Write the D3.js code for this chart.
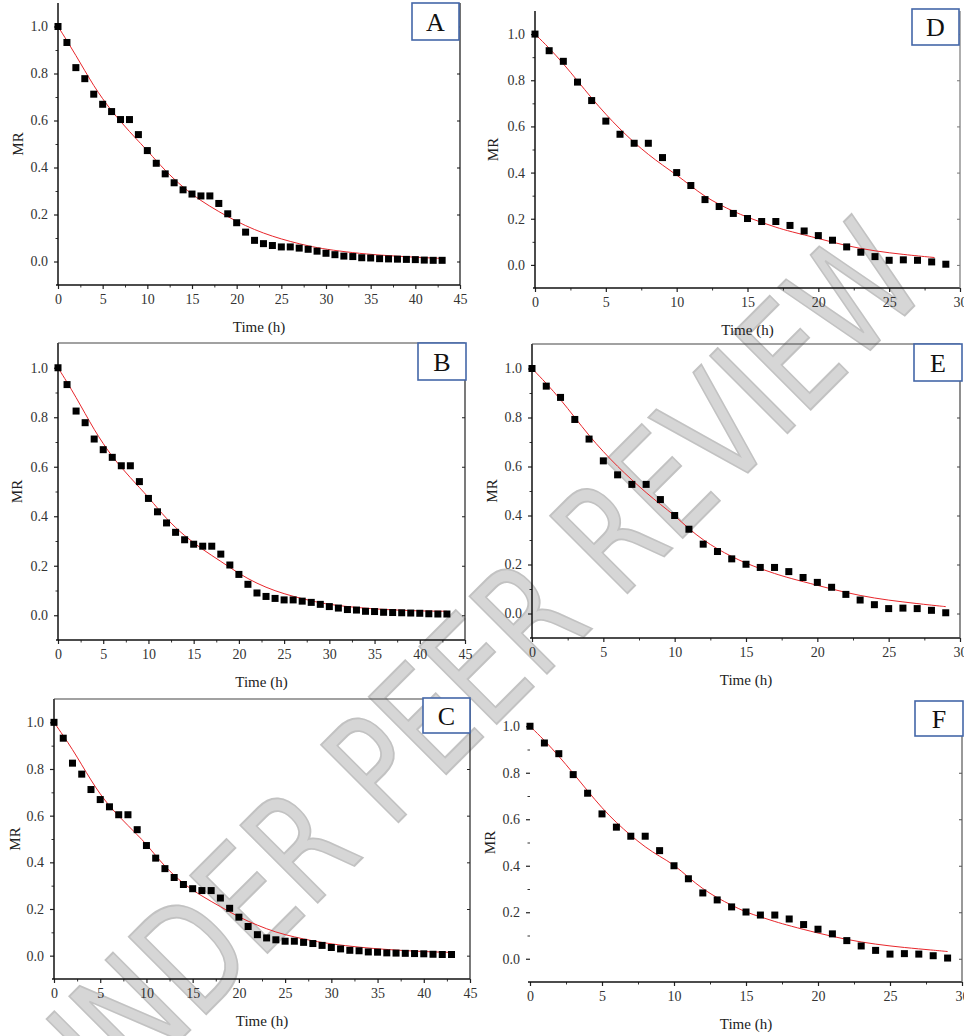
<!DOCTYPE html>
<html>
<head>
<meta charset="utf-8">
<script src="https://cdn.jsdelivr.net/npm/d3@7"></script>
<style>
  html, body { margin: 0; padding: 0; background: #fff; }
  svg { display: block; }
  .serif, .serif text { font-family: "Liberation Serif", "DejaVu Serif", serif !important; }
</style>
</head>
<body>
<svg id="chart" width="964" height="1036"></svg>
<script>
// ---------------- DATA ----------------
const timesABC = [0,1,2,3,4,5,6,7,8,9,10,11,12,13,14,15,16,17,18,19,20,21,22,23,24,25,26,27,28,29,30,31,32,33,34,35,36,37,38,39,40,41,42,43];
const mrABC = [1.000,0.932,0.825,0.778,0.712,0.669,0.638,0.604,0.604,0.540,0.472,0.418,0.373,0.335,0.305,0.287,0.279,0.279,0.247,0.203,0.165,0.125,0.090,0.076,0.068,0.062,0.062,0.057,0.052,0.044,0.035,0.029,0.023,0.021,0.016,0.015,0.012,0.011,0.010,0.009,0.008,0.006,0.005,0.005];

const timesDEF = [0,1,2,3,4,5,6,7,8,9,10,11,12,13,14,15,16,17,18,19,20,21,22,23,24,25,26,27,28,29];
const mrDEF = [1.000,0.928,0.882,0.792,0.712,0.623,0.566,0.527,0.527,0.465,0.400,0.344,0.283,0.253,0.223,0.201,0.188,0.188,0.171,0.147,0.127,0.107,0.078,0.055,0.036,0.020,0.022,0.020,0.013,0.003];

// fitted model curves
const fitTimeABC = [0,1,2,3,4,5,6,7,8,9,10,12,14,16,18,20,22,24,26,28,30,33,36,40,43];
const fitA = [1.0,0.940,0.877,0.812,0.748,0.692,0.641,0.596,0.553,0.512,0.472,0.386,0.315,0.258,0.212,0.170,0.135,0.107,0.085,0.066,0.052,0.037,0.027,0.018,0.013];
const fitB = [1.0,0.942,0.880,0.815,0.750,0.693,0.641,0.597,0.556,0.516,0.477,0.388,0.320,0.265,0.218,0.168,0.128,0.098,0.076,0.058,0.043,0.031,0.023,0.017,0.016];
const fitC = [1.0,0.943,0.884,0.818,0.752,0.692,0.641,0.598,0.558,0.518,0.478,0.380,0.307,0.255,0.210,0.165,0.130,0.100,0.080,0.063,0.050,0.036,0.026,0.017,0.014];

const fitTimeD = [0,1,2,3,4,5,6,7,8,9,10,11,12,13,14,15,16,17,18,20,22,24,26,28.2];
const fitD = [1.0,0.940,0.872,0.798,0.722,0.652,0.588,0.530,0.478,0.432,0.390,0.342,0.296,0.262,0.232,0.206,0.184,0.163,0.145,0.115,0.082,0.060,0.045,0.032];
const fitTimeEF = [0,1,2,3,4,5,6,7,8,9,10,11,12,13,14,15,16,17,18,20,22,24,26,28,29];
const fitE = [1.0,0.940,0.874,0.800,0.726,0.660,0.600,0.545,0.493,0.445,0.400,0.345,0.300,0.263,0.232,0.205,0.183,0.163,0.145,0.115,0.085,0.062,0.047,0.034,0.028];
const fitF = [1.0,0.940,0.872,0.798,0.722,0.648,0.585,0.530,0.480,0.440,0.405,0.350,0.300,0.262,0.230,0.200,0.180,0.160,0.142,0.110,0.082,0.062,0.048,0.037,0.031];

const xTicks45 = [0,5,10,15,20,25,30,35,40,45];
const xTicks30 = [0,5,10,15,20,25,30];
const yTicks = [0.0,0.2,0.4,0.6,0.8,1.0];
const yMinorTicks = [0.1,0.3,0.5,0.7,0.9];
const panelLabels = ["A","B","C","D","E","F"];
const xTitle = "Time (h)";
const yTitle = "MR";
const watermark = "UNDER PEER REVIEW";

// ---------------- LAYOUT ----------------
const layouts = [
  {label:panelLabels[0], t:timesABC, v:mrABC, ft:fitTimeABC, fv:fitA, xmax:45, xt:xTicks45,
   L:58, R:460, T:3, B:285, box:[412,3,47,37], top:false, yline:true, rightCol:"#111", mrX:18},
  {label:panelLabels[1], t:timesABC, v:mrABC, ft:fitTimeABC, fv:fitB, xmax:45, xt:xTicks45,
   L:58, R:465, T:343, B:640, box:[418,343,48,37], top:true, yline:true, rightCol:"#222", mrX:17},
  {label:panelLabels[2], t:timesABC, v:mrABC, ft:fitTimeABC, fv:fitC, xmax:45, xt:xTicks45,
   L:54, R:470, T:699, B:979, box:[423,698,47,35], top:true, yline:true, rightCol:"#222", mrX:15},
  {label:panelLabels[3], t:timesDEF, v:mrDEF, ft:fitTimeD, fv:fitD, xmax:30, xt:xTicks30,
   L:535, R:960, T:11, B:288, box:[912,9,47,36], top:false, yline:true, rightCol:"#777", mrX:493},
  {label:panelLabels[4], t:timesDEF, v:mrDEF, ft:fitTimeEF, fv:fitE, xmax:30, xt:xTicks30,
   L:532, R:960, T:344, B:638, box:[914,344,48,37], top:true, yline:true, rightCol:"#444", mrX:492},
  {label:panelLabels[5], t:timesDEF, v:mrDEF, ft:fitTimeEF, fv:fitF, xmax:30, xt:xTicks30,
   L:530, R:962, T:703, B:982, box:[915,701,48,35], top:false, yline:false, rightCol:"#555", mrX:490}
];

const svg = d3.select("#chart");
svg.append("rect").attr("width",964).attr("height",1036).attr("fill","#fff");

// watermark (behind everything)
const wm = svg.append("g").attr("transform","translate(468,676) rotate(-45) scale(0.75,1)");
wm.append("text")
  .attr("text-anchor","middle")
  .attr("dy","0.36em")
  .style("font-family","'DejaVu Sans', sans-serif")
  .attr("font-size",150)
  .attr("fill","#d6d6d6")
  .attr("stroke","#c2c2c2")
  .attr("stroke-width",2)
  .text(watermark);

layouts.forEach(p => {
  const g = svg.append("g").attr("class","serif");
  const x = d3.scaleLinear().domain([0, p.xmax]).range([p.L, p.R]);
  const y = d3.scaleLinear().domain([-0.1, 1.1]).range([p.B, p.T]);

  // x axis: major + minor
  const minorX = p.xt.slice(0,-1).map(d => d + 2.5);
  const gx = g.append("g").attr("transform",`translate(0,${p.B})`)
    .call(d3.axisBottom(x).tickValues(p.xt).tickSize(4).tickPadding(5).tickFormat(d3.format("d")));
  gx.attr("font-family",null).attr("font-size",null);
  gx.select(".domain").remove();
  gx.selectAll("line").attr("stroke","#222").attr("stroke-width",1.2);
  gx.selectAll("text").attr("font-size",14).attr("fill","#333");
  const gxm = g.append("g").attr("transform",`translate(0,${p.B})`)
    .call(d3.axisBottom(x).tickValues(minorX).tickSize(2.5).tickFormat(""));
  gxm.select(".domain").remove();
  gxm.selectAll("line").attr("stroke","#333");

  // y axis: major + minor
  const gy = g.append("g").attr("transform",`translate(${p.L},0)`)
    .call(d3.axisLeft(y).tickValues(yTicks).tickSize(4).tickPadding(6).tickFormat(d3.format(".1f")));
  gy.attr("font-family",null).attr("font-size",null);
  gy.select(".domain").remove();
  gy.selectAll("line").attr("stroke","#222").attr("stroke-width",1.2);
  gy.selectAll("text").attr("font-size",14).attr("fill","#333");
  const gym = g.append("g").attr("transform",`translate(${p.L},0)`)
    .call(d3.axisLeft(y).tickValues(yMinorTicks).tickSize(2.5).tickFormat(""));
  gym.select(".domain").remove();
  gym.selectAll("line").attr("stroke","#333");

  // right-side inner ticks
  const gr = g.append("g").attr("transform",`translate(${p.R},0)`)
    .call(d3.axisLeft(y).tickValues(yTicks).tickSize(3).tickFormat(""));
  gr.select(".domain").remove();
  gr.selectAll("line").attr("stroke",p.rightCol);

  // frame lines
  g.append("line").attr("x1",p.L-2).attr("x2",p.R).attr("y1",p.B).attr("y2",p.B)
    .attr("stroke","#111").attr("stroke-width",1.5);
  if (p.yline) {
    g.append("line").attr("x1",p.L).attr("x2",p.L).attr("y1",p.T).attr("y2",p.B)
      .attr("stroke","#111").attr("stroke-width",1.5);
  }
  g.append("line").attr("x1",p.R).attr("x2",p.R).attr("y1",p.T).attr("y2",p.B)
    .attr("stroke",p.rightCol).attr("stroke-width",1.2);
  if (p.top) {
    g.append("line").attr("x1",p.L).attr("x2",p.R).attr("y1",p.T).attr("y2",p.T)
      .attr("stroke","#444").attr("stroke-width",1.2);
  }

  // fitted curve
  const line = d3.line().x(d => x(d[0])).y(d => y(d[1])).curve(d3.curveBasis);
  g.append("path").datum(p.ft.map((t,i) => [t, p.fv[i]]))
    .attr("d", line).attr("fill","none").attr("stroke","#e8262b").attr("stroke-width",1);

  // data squares
  const s = 7;
  g.selectAll("rect.pt").data(p.t.map((t,i) => [t, p.v[i]])).enter()
    .append("rect").attr("class","pt")
    .attr("x", d => x(d[0]) - s/2).attr("y", d => y(d[1]) - s/2)
    .attr("width", s).attr("height", s).attr("fill","#000");

  // axis titles
  g.append("text").attr("x",(p.L+p.R)/2).attr("y",p.B+47)
    .attr("text-anchor","middle").attr("font-size",15).attr("fill","#222")
    .text(xTitle);
  const cy = (p.T+p.B)/2;
  g.append("text").attr("transform",`translate(${p.mrX+5},${cy}) rotate(-90)`)
    .attr("text-anchor","middle").attr("font-size",15).attr("fill","#222")
    .text(yTitle);

  // panel label box
  const [bx,by,bw,bh] = p.box;
  g.append("rect").attr("x",bx).attr("y",by).attr("width",bw).attr("height",bh)
    .attr("fill","#fff").attr("stroke","#4467a8").attr("stroke-width",1.6);
  g.append("text").attr("x",bx+bw/2).attr("y",by+bh/2).attr("dy","0.35em")
    .attr("text-anchor","middle").attr("font-size",26).attr("fill","#111")
    .text(p.label);
});
</script>
</body>
</html>
